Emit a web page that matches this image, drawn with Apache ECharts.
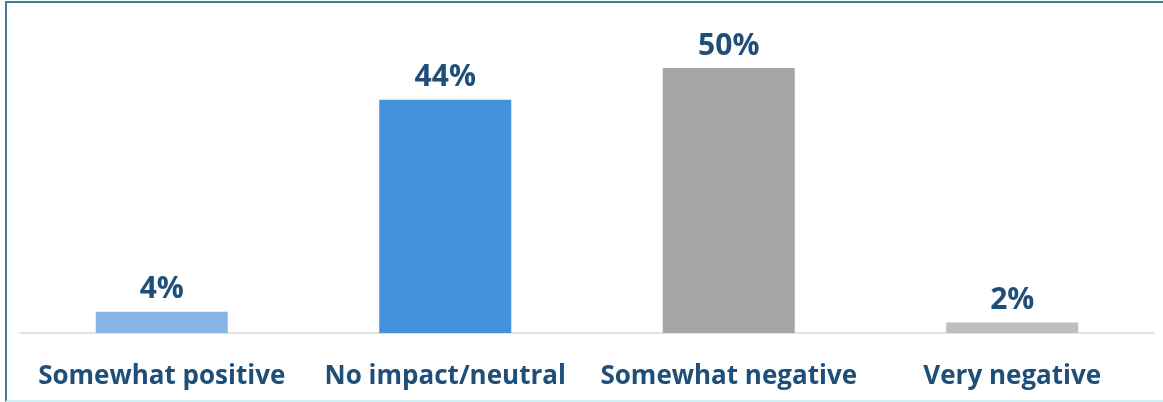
<!DOCTYPE html>
<html>
<head>
<meta charset="utf-8">
<script src="https://cdn.jsdelivr.net/npm/echarts@6/dist/echarts.min.js"></script>
<style>
  html, body { margin: 0; padding: 0; background: #fff; }
  #frame {
    position: absolute; left: 5px; top: 1px; width: 1170px; height: 397px;
    border-left: 2px solid #3f7f97; border-top: 2px solid #3f7f97;
    border-bottom: 2px solid #d2f0f4;
  }
  #container { position: absolute; left: 0; top: 0; width: 1163px; height: 402px; }
</style>
</head>
<body>
<div id="frame"></div>
<div id="container"></div>
<script>
var categories = ["Somewhat positive", "No impact/neutral", "Somewhat negative", "Very negative"];
var values = [4, 44, 50, 2];
var barColors = ["#86b6e8", "#4592dc", "#a5a5a5", "#bfbfbf"];

var dom = document.getElementById("container");
var myChart = echarts.init(dom, null, { renderer: "canvas" });

var option = {
  animation: false,
  grid: { left: 20, right: 9, top: 68, bottom: 69 },
  xAxis: {
    type: "category",
    data: categories,
    axisLine: { show: true, lineStyle: { color: "#d9d9d9", width: 1.5 } },
    axisTick: { show: false },
    axisLabel: {
      color: "#1f4e79",
      fontFamily: "Open Sans",
      fontWeight: "bold",
      fontSize: 26,
      margin: 31,
      interval: 0
    }
  },
  yAxis: {
    type: "value",
    min: 0,
    max: 50,
    show: false,
    splitLine: { show: false }
  },
  series: [
    {
      type: "bar",
      barWidth: 132,
      data: values.map(function (v, i) {
        return { value: v, itemStyle: { color: barColors[i] } };
      }),
      label: {
        show: true,
        position: "top",
        distance: 7,
        formatter: "{c}%",
        color: "#1f4e79",
        fontFamily: "Open Sans",
        fontWeight: "bold",
        fontSize: 30
      }
    }
  ]
};

myChart.setOption(option);
window.addEventListener("resize", myChart.resize);
</script>
</body>
</html>
